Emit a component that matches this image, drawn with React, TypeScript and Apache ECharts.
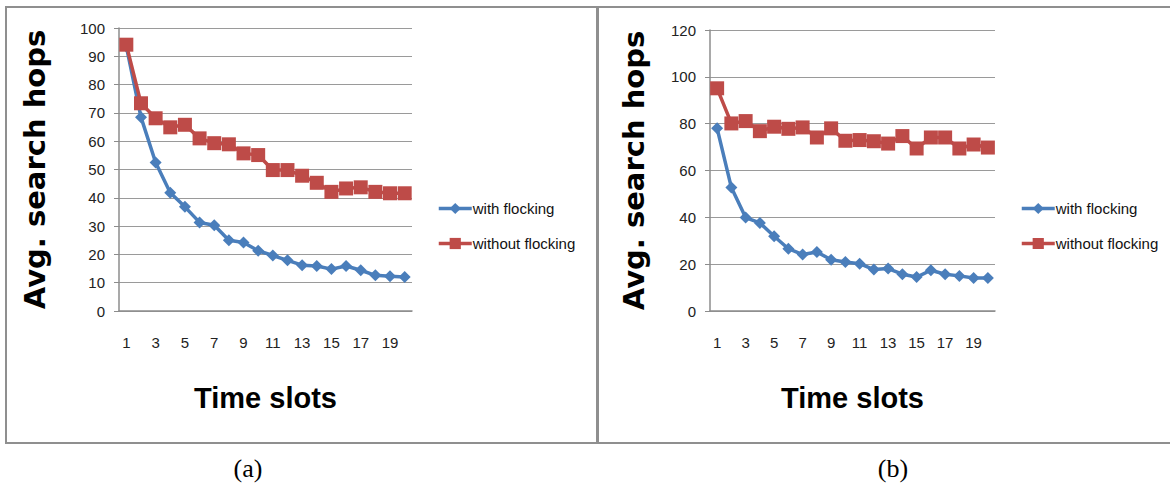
import React, { useEffect, useRef } from "react";
import * as echarts from "echarts";

const timeSlots = ["1", "2", "3", "4", "5", "6", "7", "8", "9", "10", "11", "12", "13", "14", "15", "16", "17", "18", "19", "20"];

const seriesNames = ["with flocking", "without flocking"];

// Panel (a)
const withFlockingA = [93.5, 68.5, 52.5, 41.8, 36.8, 31.3, 30.3, 25.0, 24.2, 21.3, 19.6, 17.9, 16.2, 15.9, 14.8, 15.9, 14.4, 12.6, 12.3, 12.0];
const withoutFlockingA = [94.1, 73.4, 68.1, 64.9, 65.8, 61.0, 59.3, 58.9, 55.7, 55.1, 49.8, 49.8, 47.8, 45.3, 42.1, 43.3, 43.7, 42.1, 41.6, 41.6];

// Panel (b)
const withFlockingB = [78.0, 52.7, 39.9, 37.6, 31.9, 26.6, 24.1, 25.2, 21.9, 20.9, 20.2, 17.7, 18.1, 15.7, 14.5, 17.4, 15.7, 15.0, 14.1, 14.1];
const withoutFlockingB = [95.1, 80.1, 81.1, 76.8, 78.7, 77.8, 78.4, 74.1, 78.0, 72.7, 73.0, 72.5, 71.5, 74.7, 69.4, 74.1, 74.1, 69.4, 71.1, 69.8];

const captions = ["(a)", "(b)"];
const yTitle = "Avg. search hops";
const xTitle = "Time slots";

const BLUE = "#4a7ebb";
const RED = "#be4b48";
const NARROW = "'Liberation Sans Narrow', 'Arial Narrow', 'Liberation Sans', sans-serif";

export default function App() {
  const ref = useRef<HTMLDivElement>(null);

  useEffect(() => {
    if (!ref.current) return;
    const chart = echarts.init(ref.current, null, { renderer: "svg" });

    const xAxisBase = (gridIndex: number) => ({
      type: "category" as const,
      gridIndex,
      data: timeSlots,
      boundaryGap: true,
      axisLine: { show: true, lineStyle: { color: "#8c8c8c", width: 1.5 } },
      axisTick: { show: false },
      axisLabel: { interval: 1, margin: 24, fontFamily: NARROW, fontSize: 15, color: "#222" },
      name: xTitle,
      nameLocation: "middle" as const,
      nameGap: 72,
      nameTextStyle: { fontFamily: NARROW, fontWeight: "bold" as const, fontSize: 29, color: "#000" },
    });

    const yAxisBase = (gridIndex: number, max: number, interval: number, nameGap: number) => ({
      type: "value" as const,
      gridIndex,
      min: 0,
      max,
      interval,
      axisLine: { show: true, lineStyle: { color: "#8c8c8c", width: 1.5 } },
      axisTick: { show: true, length: 5, lineStyle: { color: "#8c8c8c" } },
      splitLine: { show: true, lineStyle: { color: "#9a9a9a", width: 1.2 } },
      axisLabel: { margin: 14, fontFamily: NARROW, fontSize: 15, color: "#222" },
      name: yTitle,
      nameLocation: "middle" as const,
      nameGap,
      nameRotate: 90,
      nameTextStyle: { fontFamily: "'DejaVu Sans', sans-serif", fontWeight: "bold" as const, fontSize: 29, color: "#000" },
    });

    const lineSeries = (name: string, data: number[], idx: number, color: string, symbol: string, size: number) => ({
      type: "line" as const,
      name,
      data,
      xAxisIndex: idx,
      yAxisIndex: idx,
      symbol,
      symbolSize: size,
      showAllSymbol: true,
      lineStyle: { color, width: 3.5 },
      itemStyle: { color },
    });

    const legendBase = (left: number) => ({
      orient: "vertical" as const,
      left,
      top: 196,
      itemWidth: 33,
      itemHeight: 14,
      itemGap: 20,
      lineStyle: { width: 3.5 },
      textStyle: { fontFamily: NARROW, fontSize: 15, color: "#111", padding: [0, 0, 0, -4] },
      data: seriesNames,
      selectedMode: false,
    });

    chart.setOption({
      animation: false,
      backgroundColor: "#fff",
      grid: [
        { left: 119, top: 28, width: 293, height: 283 },
        { left: 710, top: 30, width: 285, height: 281 },
      ],
      xAxis: [xAxisBase(0), xAxisBase(1)],
      yAxis: [yAxisBase(0, 100, 10, 70), yAxisBase(1, 120, 20, 62)],
      legend: [legendBase(432), legendBase(1015)],
      series: [
        lineSeries(seriesNames[0], withFlockingA, 0, BLUE, "diamond", 12),
        lineSeries(seriesNames[1], withoutFlockingA, 0, RED, "rect", 14),
        lineSeries(seriesNames[0], withFlockingB, 1, BLUE, "diamond", 12),
        lineSeries(seriesNames[1], withoutFlockingB, 1, RED, "rect", 14),
      ],
      graphic: [
        { type: "rect", shape: { x: 6, y: 7, width: 591, height: 436 }, style: { fill: "none", stroke: "#8f8f8f", lineWidth: 2 }, z: -1 },
        { type: "rect", shape: { x: 598, y: 7, width: 580, height: 436 }, style: { fill: "none", stroke: "#8f8f8f", lineWidth: 2 }, z: -1 },
        { type: "text", x: 248, y: 468, style: { text: captions[0], fontFamily: "'Liberation Serif', serif", fontSize: 26, fill: "#000", align: "center", verticalAlign: "middle" } },
        { type: "text", x: 893, y: 468, style: { text: captions[1], fontFamily: "'Liberation Serif', serif", fontSize: 26, fill: "#000", align: "center", verticalAlign: "middle" } },
      ],
    });

    return () => chart.dispose();
  }, []);

  return <div ref={ref} style={{ position: "fixed", left: 0, top: 0, width: 1170, height: 490 }} />;
}
